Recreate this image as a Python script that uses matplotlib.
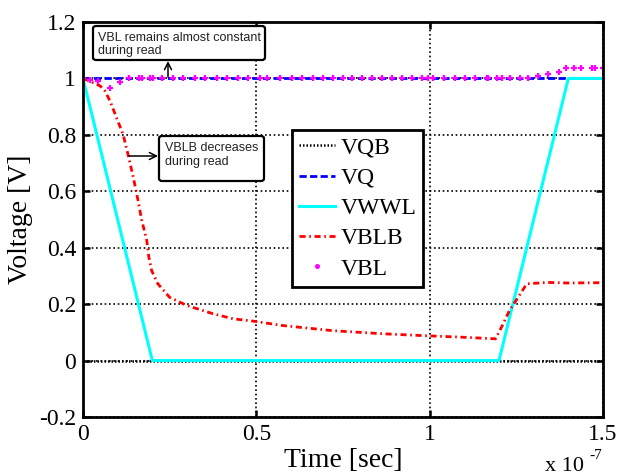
import matplotlib
matplotlib.use("Agg")
import matplotlib.pyplot as plt
from matplotlib.patches import FancyBboxPatch

# time values in units of 1e-7 s
t_vqb = [0.0, 1.5]
v_vqb = [0.0, 0.0]
t_vq = [0.0, 1.5]
v_vq = [1.0, 1.0]
t_vwwl = [0.0, 0.2, 1.2, 1.4, 1.5]
v_vwwl = [1.0, 0.0, 0.0, 1.0, 1.0]
t_vblb = [0.0, 0.02, 0.05, 0.063, 0.078, 0.097, 0.116, 0.13, 0.145, 0.159, 0.169,
          0.184, 0.19, 0.198, 0.216, 0.25, 0.30, 0.375, 0.433, 0.49, 0.577, 0.72,
          0.865, 0.99, 1.11, 1.19, 1.21, 1.23, 1.255, 1.28, 1.34, 1.395, 1.5]
v_vblb = [1.0, 0.99, 0.973, 0.956, 0.92, 0.86, 0.80, 0.73, 0.65, 0.566, 0.50,
          0.425, 0.366, 0.319, 0.272, 0.224, 0.195, 0.166, 0.148, 0.140, 0.124, 0.106,
          0.095, 0.088, 0.082, 0.077, 0.125, 0.177, 0.224, 0.272, 0.277, 0.275, 0.276]
t_vbl = [0.0, 0.02, 0.044, 0.078, 0.107, 0.133, 0.162, 0.169, 0.193, 0.201, 0.227,
         0.26, 0.289, 0.323, 0.352, 0.386, 0.414, 0.448, 0.477, 0.511, 0.530, 0.568,
         0.602, 0.631, 0.664, 0.693, 0.722, 0.751, 0.775, 0.804, 0.833, 0.862, 0.891,
         0.920, 0.949, 0.978, 0.996, 1.011, 1.040, 1.073, 1.102, 1.131, 1.164, 1.169,
         1.193, 1.208, 1.232, 1.260, 1.284, 1.313, 1.342, 1.374, 1.393, 1.415, 1.436,
         1.468, 1.478, 1.50]
v_vbl = [1.0, 0.995, 0.99, 0.965, 0.988, 1.0, 1.0, 1.0, 1.0, 1.0, 1.0,
         1.0, 1.0, 1.0, 1.0, 1.0, 1.0, 1.0, 1.0, 1.0, 1.0, 1.0,
         1.0, 1.0, 1.0, 1.0, 1.0, 1.0, 1.0, 1.0, 1.0, 1.0, 1.0,
         1.0, 1.0, 1.0, 1.0, 1.0, 1.0, 1.0, 1.0, 1.0, 1.0, 1.0,
         1.0, 1.0, 1.0, 1.0, 1.0, 1.008, 1.015, 1.024, 1.036, 1.036, 1.036,
         1.036, 1.036, 1.036]

x_ticks = [0, 0.5, 1, 1.5]
x_ticklabels = ["0", "0.5", "1", "1.5"]
y_ticks = [-0.2, 0, 0.2, 0.4, 0.6, 0.8, 1.0, 1.2]
y_ticklabels = ["-0.2", "0", "0.2", "0.4", "0.6", "0.8", "1", "1.2"]

serif = "Liberation Serif"
sans = "Liberation Sans"

fig = plt.figure(figsize=(6.17, 4.76), dpi=100)
W, H = 617, 476
axl, axr, axt, axb = 83, 603, 22, 417
ax = fig.add_axes([axl / W, 1 - axb / H, (axr - axl) / W, (axb - axt) / H])

ax.plot(t_vqb, v_vqb, color="black", lw=1.8, linestyle=(0, (0.6, 0.8)), label="VQB")
ax.plot(t_vq, v_vq, color="#0000ff", lw=2.0, linestyle=(0, (2.6, 1.2)), label="VQ")
ax.plot(t_vwwl, v_vwwl, color="#00ffff", lw=2.2, linestyle="-", label="VWWL")
ax.plot(t_vblb, v_vblb, color="#ff0000", lw=2.0, linestyle=(0, (2.2, 1.3, 0.6, 1.3)), label="VBLB")
ax.plot(t_vbl, v_vbl, color="#ff00ff", lw=0, marker="+", ms=4, mew=1.6, label="VBL")

ax.set_xlim(0, 1.5)
ax.set_ylim(-0.2, 1.2)
ax.set_xticks(x_ticks)
ax.set_xticklabels(x_ticklabels)
ax.set_yticks(y_ticks)
ax.set_yticklabels(y_ticklabels)
ax.grid(True, color="black", linestyle=(0, (1, 1.6)), lw=1.2)
ax.tick_params(direction="in", length=5, width=1.8, top=True, right=True,
               labelsize=17, pad=5)
for lab in ax.get_xticklabels() + ax.get_yticklabels():
    lab.set_fontfamily(serif)
for s in ax.spines.values():
    s.set_linewidth(2.0)
    s.set_color("black")

ax.set_xlabel("Time [sec]", fontsize=20, family=serif, labelpad=2)
ax.set_ylabel("Voltage [V]", fontsize=20, family=serif, labelpad=4)

fig.text(545 / W, 1 - 471 / H, "x 10", fontsize=16, family=serif, ha="left", va="baseline")
fig.text(589 / W, 1 - 459 / H, "-7", fontsize=11, family=serif, ha="left", va="baseline")

leg = ax.legend(loc="upper left", bbox_to_anchor=((292 - axl) / (axr - axl), (axb - 130) / (axb - axt)),
                borderaxespad=0, prop={"family": serif, "size": 17}, numpoints=1,
                handlelength=1.5, handletextpad=0.25, labelspacing=0.37, borderpad=0.3,
                fancybox=False, framealpha=1, edgecolor="black")
leg.get_frame().set_linewidth(2.0)
leg.legend_handles[4].set_marker(".")
leg.legend_handles[4].set_markersize(4)


def fx(px):
    return (px - axl) / (axr - axl)


def fy(py):
    return (axb - py) / (axb - axt)


def box(x0, y0, x1, y1):
    p = FancyBboxPatch((fx(x0), fy(y1)), fx(x1) - fx(x0), fy(y0) - fy(y1),
                       boxstyle="round,pad=0,rounding_size=0.006", transform=ax.transAxes,
                       facecolor="white", edgecolor="black", lw=1.6, zorder=5)
    ax.add_patch(p)


box(93, 26, 265, 60)
ax.text(fx(98), fy(44.5), "VBL remains almost constant\nduring read", transform=ax.transAxes,
        fontsize=9, family=sans, color="#222222", ha="left", va="center", linespacing=1.15, zorder=6)
box(159, 136, 264, 181)
ax.text(fx(165), fy(155), "VBLB decreases\nduring read", transform=ax.transAxes,
        fontsize=9, family=sans, color="#222222", ha="left", va="center", linespacing=1.15, zorder=6)

ax.annotate("", xy=(fx(168), fy(61)), xytext=(fx(168), fy(77)), xycoords="axes fraction",
            textcoords="axes fraction",
            arrowprops=dict(arrowstyle="->,head_length=0.5,head_width=0.25", lw=1.1, color="black",
                            shrinkA=0, shrinkB=0))
ax.annotate("", xy=(fx(158), fy(156)), xytext=(fx(129), fy(156)), xycoords="axes fraction",
            textcoords="axes fraction",
            arrowprops=dict(arrowstyle="->,head_length=0.5,head_width=0.25", lw=1.1, color="black",
                            shrinkA=0, shrinkB=0))

fig.savefig("out.png", dpi=100)
